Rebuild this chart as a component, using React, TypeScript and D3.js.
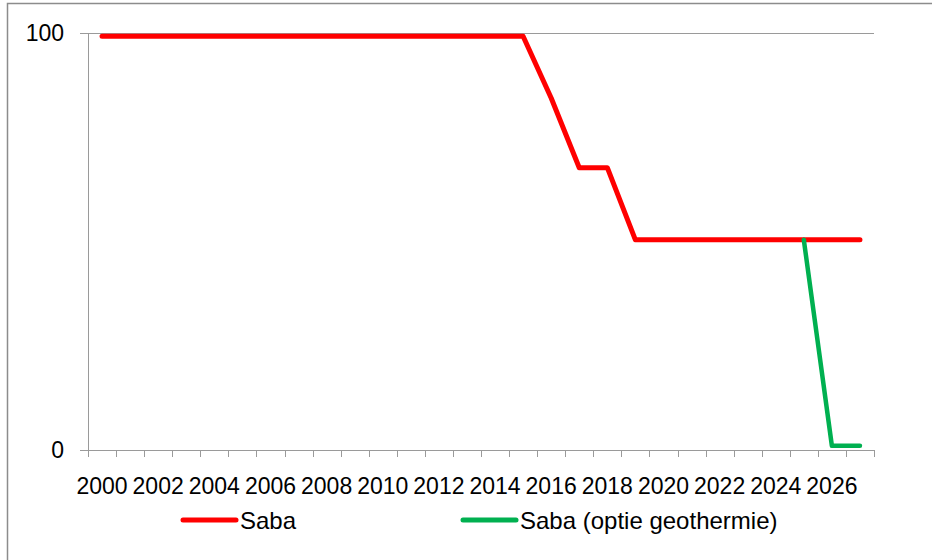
import React, { useEffect, useRef } from 'react'
import * as d3 from 'd3'

// years on the category axis
const years = [
  2000, 2001, 2002, 2003, 2004, 2005, 2006, 2007, 2008, 2009, 2010, 2011, 2012, 2013,
  2014, 2015, 2016, 2017, 2018, 2019, 2020, 2021, 2022, 2023, 2024, 2025, 2026, 2027,
]
const saba = [
  99.2, 99.2, 99.2, 99.2, 99.2, 99.2, 99.2, 99.2, 99.2, 99.2, 99.2, 99.2, 99.2, 99.2,
  99.2, 99.2, 84.4, 67.7, 67.7, 50.4, 50.4, 50.4, 50.4, 50.4, 50.4, 50.4, 50.4, 50.4,
]
const sabaGeo = [
  null, null, null, null, null, null, null, null, null, null, null, null, null, null,
  null, null, null, null, null, null, null, null, null, null, null, 50.4, 1, 1,
]
const yTicks = [0, 100]
const seriesNames = ['Saba', 'Saba (optie geothermie)']
const seriesColors = ['#ff0000', '#00b050']

const W = 932
const H = 560
const FONT = '"Liberation Sans", Arial, sans-serif'

const App = () => {
  const svgRef = useRef<SVGSVGElement>(null)

  useEffect(() => {
    const svg = d3.select(svgRef.current)
    svg.selectAll('*').remove()

    const x = d3.scaleBand<number>().domain(years).range([88, 874]).padding(0)
    const y = d3.scaleLinear().domain([0, 100]).range([450, 33])
    const cx = (yr: number) => (x(yr) as number) + x.bandwidth() / 2

    // outer frame (top + left edges visible)
    svg
      .append('path')
      .attr('d', `M7.5,${H} V3.5 H${W}`)
      .attr('fill', 'none')
      .attr('stroke', '#8c8c8c')
      .attr('stroke-width', 1.5)

    // gridline at 100
    svg
      .append('line')
      .attr('x1', 80)
      .attr('x2', 874)
      .attr('y1', Math.round(y(100)) + 0.5)
      .attr('y2', Math.round(y(100)) + 0.5)
      .attr('stroke', '#9a9a9a')

    // y axis
    svg
      .append('line')
      .attr('x1', 88.5)
      .attr('x2', 88.5)
      .attr('y1', y(100))
      .attr('y2', y(0))
      .attr('stroke', '#9a9a9a')
    svg
      .selectAll('.ytick')
      .data(yTicks)
      .enter()
      .append('line')
      .attr('x1', 80)
      .attr('x2', 88)
      .attr('y1', (d) => Math.round(y(d)) + 0.5)
      .attr('y2', (d) => Math.round(y(d)) + 0.5)
      .attr('stroke', '#9a9a9a')
    svg
      .selectAll('.ylab')
      .data(yTicks)
      .enter()
      .append('text')
      .text((d) => d)
      .attr('x', 64)
      .attr('y', (d) => y(d))
      .attr('dy', '0.36em')
      .attr('text-anchor', 'end')
      .style('font-family', FONT)
      .style('font-size', '23px')
      .attr('fill', '#000')

    // x axis
    svg
      .append('line')
      .attr('x1', 80)
      .attr('x2', 874)
      .attr('y1', Math.round(y(0)) + 0.5)
      .attr('y2', Math.round(y(0)) + 0.5)
      .attr('stroke', '#9a9a9a')
    const edges = years.map((d) => x(d) as number).concat([874])
    svg
      .selectAll('.xtick')
      .data(edges)
      .enter()
      .append('line')
      .attr('x1', (d) => Math.round(d) + 0.5)
      .attr('x2', (d) => Math.round(d) + 0.5)
      .attr('y1', y(0))
      .attr('y2', y(0) + 7)
      .attr('stroke', '#9a9a9a')
    svg
      .selectAll('.xlab')
      .data(years.filter((d) => d % 2 === 0))
      .enter()
      .append('text')
      .text((d) => d)
      .attr('x', (d) => cx(d))
      .attr('y', 494)
      .attr('text-anchor', 'middle')
      .style('font-family', FONT)
      .style('font-size', '23px')
      .attr('fill', '#000')

    // series lines
    const line = d3
      .line<number | null>()
      .defined((d) => d !== null)
      .x((_, i) => cx(years[i]))
      .y((d) => y(d as number))

    ;[saba, sabaGeo].forEach((s, i) => {
      svg
        .append('path')
        .datum(s)
        .attr('d', line)
        .attr('fill', 'none')
        .attr('stroke', seriesColors[i])
        .attr('stroke-width', i === 0 ? 5 : 4.5)
        .attr('stroke-linejoin', 'round')
        .attr('stroke-linecap', 'round')
    })

    // legend
    const legendX = [183, 463]
    seriesNames.forEach((name, i) => {
      svg
        .append('line')
        .attr('x1', legendX[i])
        .attr('x2', legendX[i] + 53)
        .attr('y1', 520)
        .attr('y2', 520)
        .attr('stroke', seriesColors[i])
        .attr('stroke-width', 5)
        .attr('stroke-linecap', 'round')
      svg
        .append('text')
        .text(name)
        .attr('x', legendX[i] + 57)
        .attr('y', 529)
        .style('font-family', FONT)
        .style('font-size', '24px')
        .attr('fill', '#000')
    })
  }, [])

  return (
    <svg
      ref={svgRef}
      width={W}
      height={H}
      style={{ position: 'absolute', left: 0, top: 0, background: '#fff' }}
    ></svg>
  )
}

export default App
